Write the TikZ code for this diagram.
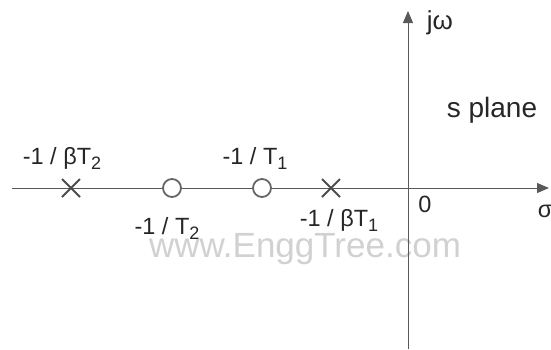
\documentclass[tikz,border=0pt]{standalone}
\usepackage{fontspec}
\setmainfont{Liberation Sans}
\usetikzlibrary{arrows.meta,calc}
\newcommand{\lsub}[1]{\raisebox{-0.4ex}{\fontsize{18}{18}\selectfont #1}}
\begin{document}
\begin{tikzpicture}[x=1pt,y=-1pt,
  axis/.style={draw=black!65,line width=1pt},
  lbl/.style={font=\fontsize{23.5}{26}\selectfont,text=black!85,inner sep=0pt},
  biglbl/.style={font=\fontsize{28}{30}\selectfont,text=black!85,inner sep=0pt},
  polemark/.style={draw=black!70,line width=1.8pt},
  zeromark/.style={draw=black!60,line width=1.8pt,circle,minimum size=18pt,inner sep=0pt,fill=white}]
\useasboundingbox (0,0) rectangle (551,349);
\node[font=\fontsize{35}{37}\selectfont,text=black!18,inner sep=0pt] (wm) at (305,249) {www.EnggTree.com};
\coordinate (xl) at (12,188);
\coordinate (xr) at (549,188);
\coordinate (yb) at (408,349);
\coordinate (yt) at (408,11);
\draw[axis,-{Triangle[length=12pt,width=10pt]}] (xl) -- (xr);
\draw[axis,-{Triangle[length=12pt,width=10pt]}] (yb) -- (yt);
% poles
\coordinate (p2) at (71,188);
\coordinate (p1) at (331,188);
\draw[polemark] ($(p2)+(-9,-9)$) -- ($(p2)+(9,9)$) ($(p2)+(-9,9)$) -- ($(p2)+(9,-9)$);
\draw[polemark] ($(p1)+(-9,-9)$) -- ($(p1)+(9,9)$) ($(p1)+(-9,9)$) -- ($(p1)+(9,-9)$);
% zeros
\node[zeromark] (z2) at (172,188) {};
\node[zeromark] (z1) at (262,188) {};
% labels
\node[lbl] (lp2) at (62,158) {-1 / βT\lsub{2}};
\node[lbl] (lz1) at (255,158) {-1 / T\lsub{1}};
\node[lbl] (lz2) at (167,228) {-1 / T\lsub{2}};
\node[lbl] (lp1) at (339,220) {-1 / βT\lsub{1}};
\node[lbl] (o) at (425,204) {0};
\node[lbl] (sig) at (545,211) {σ};
\node[lbl,font=\fontsize{26}{28}\selectfont] (jw) at (440,23) {jω};
\node[biglbl] (sp) at (492,110) {s plane};
\end{tikzpicture}
\end{document}
